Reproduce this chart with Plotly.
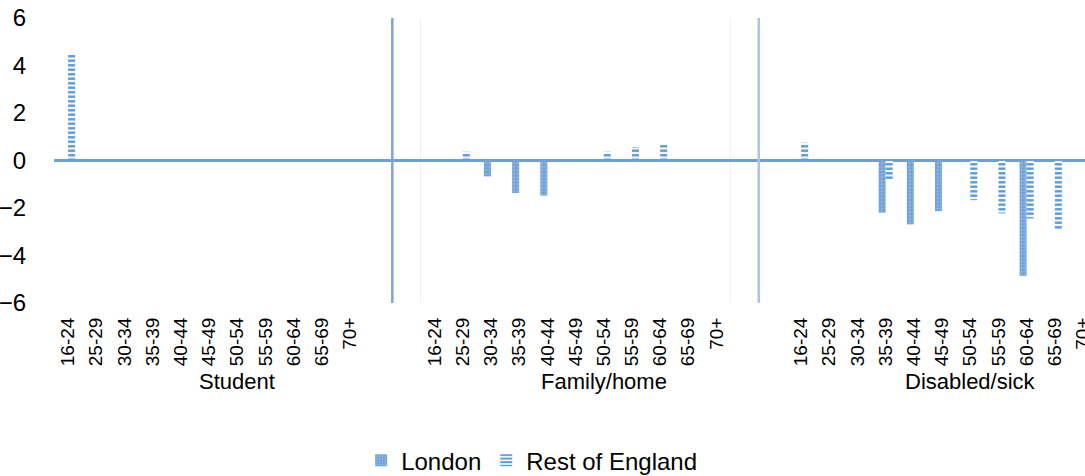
import plotly.graph_objects as go

groups = ["Student", "Family/home", "Disabled/sick"]
ages = ["16-24", "25-29", "30-34", "35-39", "40-44", "45-49",
        "50-54", "55-59", "60-64", "65-69", "70+"]

london_student = [0, 0, 0, 0, 0, 0, 0, 0, 0, 0, 0]
london_family = [0, 0, -0.67, -1.37, -1.48, 0, 0, 0, 0, 0, 0]
london_disabled = [0, 0, 0, -2.2, -2.69, -2.13, 0, 0, -4.86, 0, 0]

roe_student = [4.45, 0, 0, 0, 0, 0, 0, 0, 0, 0, 0]
roe_family = [0, 0.37, 0, 0, 0, 0, 0.37, 0.57, 0.71, 0, 0]
roe_disabled = [0.75, 0, 0, -0.78, 0, 0, -1.67, -2.23, -2.44, -2.9, 0]

london = [london_student, london_family, london_disabled]
roe = [roe_student, roe_family, roe_disabled]

slots_per_group = len(ages) + 2  # two empty slots between groups

xs, tick_text, lon_vals, roe_vals = [], [], [], []
for g in range(len(groups)):
    for a, age in enumerate(ages):
        xs.append(g * slots_per_group + a)
        tick_text.append(age)
        lon_vals.append(london[g][a])
        roe_vals.append(roe[g][a])

FONT = "Arial, Liberation Sans, sans-serif"
BLUE = "#5b9bd5"

fig = go.Figure()
fig.add_trace(go.Bar(
    x=xs, y=lon_vals, name="London",
    marker=dict(color="#6fa0d8", line=dict(width=0),
                pattern=dict(shape="+", fgcolor="#b3cdee", bgcolor="#6a9dd7",
                             size=3.5, solidity=0.25, fillmode="replace")),
))
fig.add_trace(go.Bar(
    x=xs, y=roe_vals, name="Rest of England",
    marker=dict(color=BLUE, line=dict(width=0),
                pattern=dict(shape="-", fgcolor=BLUE, bgcolor="white",
                             size=4.5, solidity=0.55, fillmode="replace")),
))

# separators between groups
for g in range(len(groups) - 1):
    sep = g * slots_per_group + len(ages) + 0.5
    fig.add_shape(type="line", xref="x", yref="paper", x0=sep, x1=sep, y0=0, y1=1,
                  line=dict(color="#7ba4d8" if g == 0 else "#a9c4e6", width=2.5))
# faint group boundary lines
for xb in [slots_per_group - 0.5, slots_per_group + len(ages) - 0.5]:
    fig.add_shape(type="line", xref="x", yref="paper", x0=xb, x1=xb, y0=0, y1=1,
                  line=dict(color="#f0f0f0", width=1), layer="below")

# group labels
for g, name in enumerate(groups):
    fig.add_annotation(x=g * slots_per_group + (slots_per_group - 1) / 2, xref="x",
                       y=-0.274, yref="paper", text=name, showarrow=False,
                       font=dict(family=FONT, size=22, color="black"),
                       xanchor="center", yanchor="middle")

last_x = (len(groups) - 1) * slots_per_group + len(ages) - 1
fig.update_layout(
    width=1085, height=476,
    margin=dict(l=54, r=0, t=18, b=173),
    paper_bgcolor="white", plot_bgcolor="white",
    barmode="group", bargap=0.5, bargroupgap=0,
    font=dict(family=FONT, color="black"),
    showlegend=True,
    legend=dict(orientation="h", xref="container", yref="container",
                x=0.49, xanchor="center", y=0.032, yanchor="middle",
                font=dict(family=FONT, size=24, color="black"),
                itemsizing="constant", traceorder="normal"),
    xaxis=dict(range=[-0.5, last_x + 0.07], tickmode="array", tickvals=xs,
               ticktext=tick_text, tickangle=-90, showgrid=False, zeroline=False,
               showline=False, ticks="outside", ticklen=6, tickcolor="white",
               ticklabeloverflow="allow",
               tickfont=dict(family=FONT, size=19, color="black"), automargin=False),
    yaxis=dict(range=[-6, 6], tickvals=[-6, -4, -2, 0, 2, 4, 6], showgrid=False,
               zeroline=True, zerolinecolor="#6f9fd4", zerolinewidth=2.5,
               showline=False, ticks="outside", ticklen=22, tickcolor="white",
               tickfont=dict(family=FONT, size=24, color="black"), automargin=False),
)

fig.write_html("out.html", config={"displayModeBar": False},
               post_script="document.body.style.margin='0';document.body.style.overflow='hidden';")
